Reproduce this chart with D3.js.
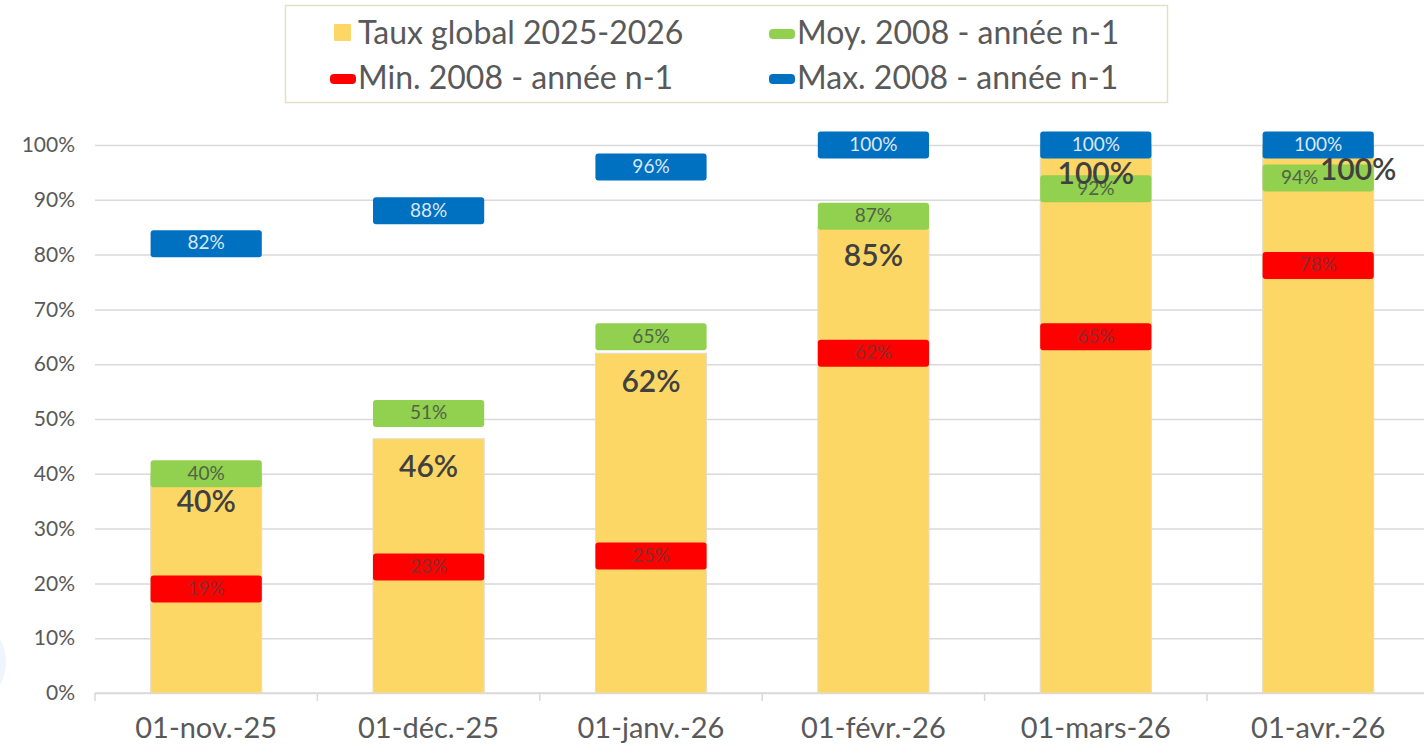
<!DOCTYPE html>
<html>
<head>
<meta charset="utf-8">
<script src="https://cdn.jsdelivr.net/npm/d3@7"></script>
<style>
  body { margin: 0; background: #fff; overflow: hidden; }
  text { font-family: Lato, "Open Sans", sans-serif; }
</style>
</head>
<body>
<div id="chart"></div>
<script>
// data
const categories = ['01-nov.-25', '01-déc.-25', '01-janv.-26', '01-févr.-26', '01-mars-26', '01-avr.-26'];
const tauxGlobal = [0.40, 0.464, 0.62, 0.85, 1.00, 1.00];
const moyValues = [0.40, 0.51, 0.65, 0.87, 0.92, 0.94];
const minValues = [0.19, 0.23, 0.25, 0.62, 0.65, 0.78];
const maxValues = [0.82, 0.88, 0.96, 1.00, 1.00, 1.00];
const yTicks = [0, 0.1, 0.2, 0.3, 0.4, 0.5, 0.6, 0.7, 0.8, 0.9, 1.0];

const width = 1424;
const height = 752;
const left = 95;
const step = 222.4;

const svg = d3.select('#chart')
  .append('svg')
  .attr('width', width)
  .attr('height', height);

// faint decoration on the left edge
svg.append('circle')
  .attr('cx', -42).attr('cy', 662).attr('r', 48)
  .attr('fill', '#eef5fc');

const x = d3.scaleBand()
  .domain(categories)
  .range([left, left + step * categories.length])
  .paddingInner(0.5)
  .paddingOuter(0.25);

const y = d3.scaleLinear()
  .domain([0, 1])
  .range([693, 145]);

const pct = d3.format('.0%');

// gridlines + y labels
const yAxis = svg.append('g')
  .attr('transform', `translate(${left},0)`)
  .call(d3.axisLeft(y)
    .tickValues(yTicks)
    .tickFormat(pct)
    .tickSize(-(width - left))
    .tickPadding(20));
yAxis.select('.domain').remove();
yAxis.selectAll('.tick line')
  .attr('stroke', '#d9d9d9')
  .attr('stroke-width', 1.5);
yAxis.selectAll('.tick text')
  .attr('fill', '#595959')
  .style('font-size', '21px');

// x axis baseline with boundary ticks (excel style)
const xAxis = svg.append('g');
xAxis.append('line')
  .attr('x1', left).attr('x2', width)
  .attr('y1', y(0)).attr('y2', y(0))
  .attr('stroke', '#d9d9d9').attr('stroke-width', 1.5);
xAxis.selectAll('.bound')
  .data(d3.range(categories.length + 1))
  .enter().append('line')
  .attr('x1', i => left + i * x.step())
  .attr('x2', i => left + i * x.step())
  .attr('y1', y(0)).attr('y2', y(0) + 8)
  .attr('stroke', '#d9d9d9').attr('stroke-width', 1.5);
xAxis.selectAll('.cat')
  .data(categories)
  .enter().append('text')
  .attr('x', d => x(d) + x.bandwidth() / 2)
  .attr('y', 731)
  .attr('text-anchor', 'middle')
  .attr('dominant-baseline', 'middle')
  .attr('fill', '#595959')
  .style('font-size', '29px')
  .text(d => d);

// yellow bars
svg.selectAll('.bar')
  .data(tauxGlobal)
  .enter().append('rect')
  .attr('class', 'bar')
  .attr('x', (d, i) => x(categories[i]))
  .attr('y', d => y(d))
  .attr('width', x.bandwidth())
  .attr('height', d => y(0) - y(d))
  .attr('fill', '#fdd766')
  .attr('stroke', '#e3dccb')
  .attr('stroke-width', 1);

// markers for min / moy / max
const markerH = 27;
function drawMarkers(values, fill, textColor) {
  const g = svg.append('g');
  g.selectAll('rect')
    .data(values)
    .enter().append('rect')
    .attr('x', (d, i) => x(categories[i]))
    .attr('y', d => y(d) - markerH / 2)
    .attr('width', x.bandwidth())
    .attr('height', markerH)
    .attr('rx', 3)
    .attr('fill', fill);
  g.selectAll('text')
    .data(values)
    .enter().append('text')
    .attr('x', (d, i) => x(categories[i]) + x.bandwidth() / 2)
    .attr('y', d => y(d) + 1)
    .attr('text-anchor', 'middle')
    .attr('dominant-baseline', 'middle')
    .attr('fill', textColor)
    .style('font-size', '19px')
    .text(d => pct(d));
  return g;
}

const moyG = drawMarkers(moyValues, '#92d050', '#4f6445');
drawMarkers(minValues, '#ff0000', '#8a2c2c');
drawMarkers(maxValues, '#0070c0', '#dbe7f5');

// the last green label sits to the left (its bar label takes the right side)
moyG.selectAll('text')
  .filter((d, i) => i === categories.length - 1)
  .attr('x', x(categories[categories.length - 1]) + 37);

// bar value labels
svg.selectAll('.barLabel')
  .data(tauxGlobal)
  .enter().append('text')
  .attr('class', 'barLabel')
  .attr('x', (d, i) => x(categories[i]) + x.bandwidth() / 2 + (i === categories.length - 1 ? 40 : 0))
  .attr('y', (d, i) => y(d) + (i === categories.length - 1 ? 27 : 31))
  .attr('text-anchor', 'middle')
  .attr('dominant-baseline', 'middle')
  .attr('fill', '#404040')
  .style('font-size', '30px')
  .style('font-weight', 600)
  .text(d => pct(d));

// legend
const legend = svg.append('g');
legend.append('rect')
  .attr('x', 285.5).attr('y', 5.5)
  .attr('width', 882).attr('height', 97)
  .attr('fill', '#fff')
  .attr('stroke', '#e4e0c6')
  .attr('stroke-width', 1.5);

const legendItems = [
  { label: 'Taux global 2025-2026', color: '#fdd766', type: 'square', col: 0, row: 0 },
  { label: 'Moy. 2008 - année n-1', color: '#92d050', type: 'line', col: 1, row: 0 },
  { label: 'Min. 2008 - année n-1', color: '#ff0000', type: 'line', col: 0, row: 1 },
  { label: 'Max. 2008 - année n-1', color: '#0070c0', type: 'line', col: 1, row: 1 }
];

const li = legend.selectAll('.item')
  .data(legendItems)
  .enter().append('g')
  .attr('transform', d => `translate(${d.col === 0 ? 358 : 797},${d.row === 0 ? 34 : 79})`);

li.append('rect')
  .attr('x', d => d.type === 'square' ? -24 : -28)
  .attr('y', d => d.type === 'square' ? -10 : -5)
  .attr('width', d => d.type === 'square' ? 17 : 26)
  .attr('height', d => d.type === 'square' ? 17 : 10)
  .attr('rx', d => d.type === 'square' ? 1 : 4)
  .attr('fill', d => d.color);

li.append('text')
  .attr('x', 0)
  .attr('y', 2)
  .attr('dominant-baseline', 'middle')
  .attr('fill', '#595959')
  .style('font-size', '32px')
  .text(d => d.label);
</script>
</body>
</html>
